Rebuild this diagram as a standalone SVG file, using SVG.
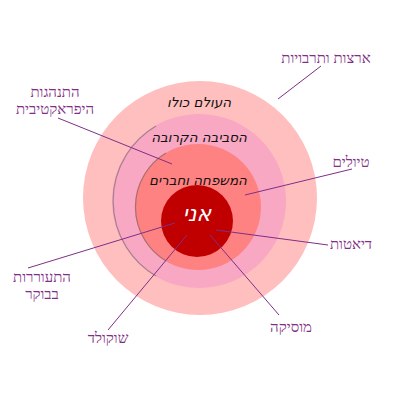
<svg xmlns="http://www.w3.org/2000/svg" width="400" height="400" viewBox="0 0 400 400">
<style>
.ring-label{font-family:"DejaVu Sans","Liberation Sans",sans-serif;font-style:italic;font-size:13.5px;fill:#111;text-anchor:middle}
.me-label{font-family:"DejaVu Sans","Liberation Sans",sans-serif;font-style:italic;font-size:22px;fill:#fff;text-anchor:middle}
.lbl{font-family:"Liberation Serif","DejaVu Sans",serif;font-size:15px;fill:#7f2f86;text-anchor:middle}
.conn{stroke:#7f2f86;stroke-width:1;fill:none}
.shadow{stroke:#555;stroke-width:1.2;fill:none;opacity:0.5}
</style>
<rect width="400" height="400" fill="#fff"/>
<g id="world">
<circle cx="200" cy="198" r="117" fill="#ffbfbf"/>
<text class="ring-label" x="199" y="107">העולם כולו</text>
</g>
<g id="surroundings">
<circle cx="199" cy="201" r="87" fill="#f8a8c2"/>
<path class="shadow" d="M156,126 A87,87 0 0 0 156,276"/>
<text class="ring-label" x="199" y="142">הסביבה הקרובה</text>
</g>
<g id="family">
<circle cx="198" cy="207" r="63" fill="#ff8282"/>
<path class="shadow" d="M166,153 A63,63 0 0 0 166,261" opacity="0.25"/>
<text class="ring-label" x="198" y="185">המשפחה וחברים</text>
</g>
<g id="me">
<circle cx="197" cy="221" r="36" fill="#c00000"/>
<text class="me-label" x="197" y="221">אני</text>
</g>
<g id="connectors">
<line class="conn" x1="321" y1="66" x2="278" y2="99"/>
<line class="conn" x1="58" y1="118" x2="172" y2="164"/>
<line class="conn" x1="352" y1="169" x2="245" y2="195"/>
<line class="conn" x1="328" y1="245" x2="216" y2="230"/>
<line class="conn" x1="279" y1="315" x2="210" y2="235"/>
<line class="conn" x1="108" y1="330" x2="187" y2="235"/>
<line class="conn" x1="28" y1="268" x2="175" y2="223"/>
</g>
<g id="label-countries"><text class="lbl" x="326" y="63">ארצות ותרבויות</text></g>
<g id="label-hyper"><text class="lbl" x="55" y="97">התנהגות</text><text class="lbl" x="55" y="114">היפראקטיבית</text></g>
<g id="label-trips"><text class="lbl" x="351" y="167">טיולים</text></g>
<g id="label-diets"><text class="lbl" x="351" y="249">דיאטות</text></g>
<g id="label-music"><text class="lbl" x="291" y="332">מוסיקה</text></g>
<g id="label-chocolate"><text class="lbl" x="108" y="343">שוקולד</text></g>
<g id="label-wakeup"><text class="lbl" x="42" y="282">התעוררות</text><text class="lbl" x="42" y="299">בבוקר</text></g>
</svg>
